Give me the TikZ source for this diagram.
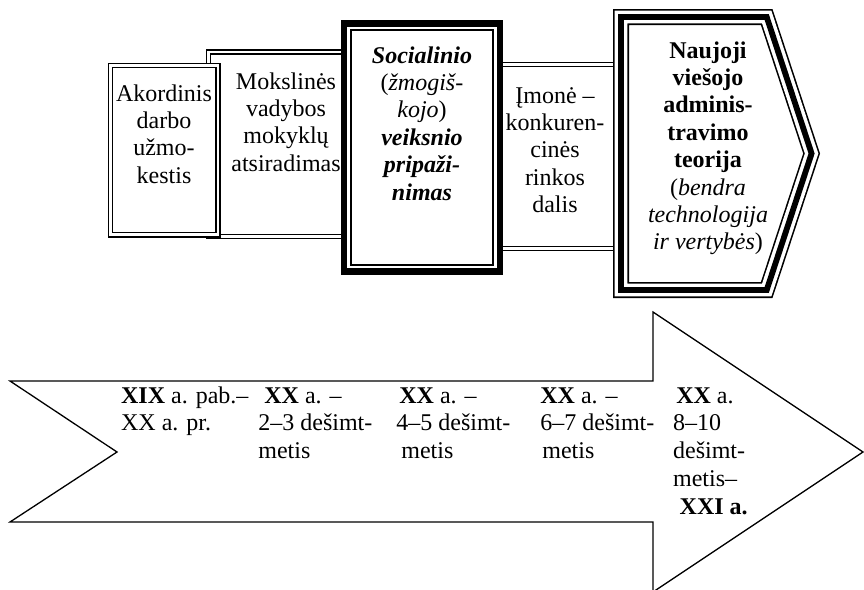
\documentclass[tikz,border=0pt]{standalone}
\usepackage{fontspec}
\setmainfont{Liberation Serif}
\begin{document}
\begin{tikzpicture}[x=0.5pt,y=-0.5pt,
  txt/.style={font=\fontsize{12}{13.7}\selectfont, inner sep=0pt, align=center, anchor=base},
  ltxt/.style={font=\fontsize{12}{13.9}\selectfont, inner sep=0pt, align=left, anchor=base west},
  dbl/.style={draw=black, fill=white, double=white, double distance=1.4pt, line width=0.65pt},
  flow/.style={draw=black, line width=0.65pt, line join=miter}]
\useasboundingbox (0,0) rectangle (864,590);
\clip (0,0) rectangle (864,590);

% time arrow along the bottom
\draw[flow] (10,381) -- (653,381) -- (653,312) -- (863,452) -- (653,592)
  -- (653,522) -- (10,522) -- (117,452) -- cycle;

% stages, drawn back to front
\draw[dbl] (208.7,52) rectangle (350,236.3);
\draw[dbl] (110.7,65.4) rectangle (218,234.8);
\draw[dbl] (495,64.4) rectangle (640,248.6);

% third stage: heavy frame with inner rule
\fill[white] (340.7,20) rectangle (503.3,275);
\draw[line width=3.35pt] (344,23.35) rectangle (500,271.65);
\draw[line width=1pt] (350.9,30.2) rectangle (493.1,264.8);

% last stage: pointed frame with triple rule
\fill[white] (621,17) -- (766.7,17) -- (811.6,153.5) -- (766.7,290) -- (621,290) -- cycle;
\draw[line width=8pt] (621,17) -- (766.7,17) -- (811.6,153.5) -- (766.7,290) -- (621,290) -- cycle;
\draw[white, line width=6.4pt] (621,17) -- (766.7,17) -- (811.6,153.5) -- (766.7,290) -- (621,290) -- cycle;
\draw[line width=2.9pt] (621,17) -- (766.7,17) -- (811.6,153.5) -- (766.7,290) -- (621,290) -- cycle;

% stage texts (placed by the baseline of their last line)
\node[txt] (s1) at (164,183.2) {Akordinis\\darbo\\užmo-\\kestis};
\node[txt] (s2) at (286,171.2) {Mokslinės\\vadybos\\mokyklų\\atsiradimas};
\node[txt] (s3) at (422,200) {\textbf{\textit{Socialinio}}\\(\textit{žmogiš-}\\\textit{kojo})\\\textbf{\textit{veiksnio}}\\\textbf{\textit{pripaži-}}\\\textbf{\textit{nimas}}};
\node[txt] (s4) at (555,212.6) {Įmonė –\\konkuren-\\cinės\\rinkos\\dalis};
\node[txt] (s5) at (708,249.8) {\textbf{Naujoji}\\\textbf{viešojo}\\\textbf{adminis-}\\\textbf{travimo}\\\textbf{teorija}\\(\textit{bendra}\\\textit{technologija}\\\textit{ir vertybės})};

% period labels
\node[ltxt] (p1) at (120.7,430.8) {\textbf{XIX} a. pab.–\\XX a. pr.};
\node[ltxt] (p2) at (258,458.6) {\hspace{3pt}\textbf{XX} a. –\\2–3 dešimt-\\metis};
\node[ltxt] (p3) at (396,458.6) {\hspace{1.5pt}\textbf{XX} a. –\\4–5 dešimt-\\\hspace{2.5pt}metis};
\node[ltxt] (p4) at (540,458.6) {\textbf{XX} a. –\\6–7 dešimt-\\\hspace{1pt}metis};
\node[ltxt] (p5) at (672.7,514.2) {\hspace{1.6pt}\textbf{XX} a.\\8–10\\dešimt-\\metis–\\\hspace{3.3pt}\textbf{XXI a.}};
\end{tikzpicture}
\end{document}
